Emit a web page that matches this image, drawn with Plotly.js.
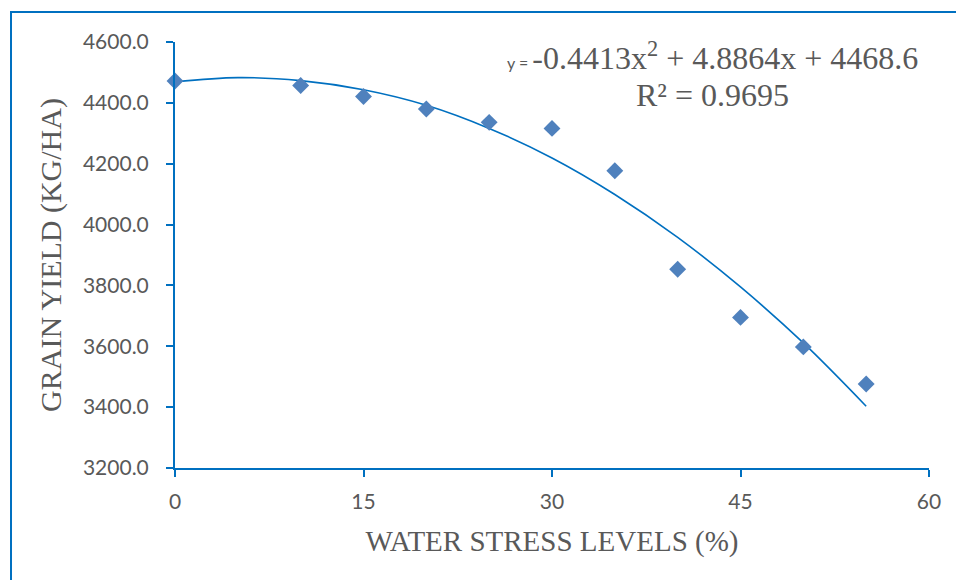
<!DOCTYPE html>
<html>
<head>
<meta charset="utf-8">
<script src="https://cdn.plot.ly/plotly-3.0.1.min.js"></script>
<style>
  html, body { margin: 0; padding: 0; background: #ffffff; }
  #chart { width: 956px; height: 580px; }
</style>
</head>
<body>
<div id="chart"></div>
<script>
// Observed data (water stress level %, grain yield kg/ha)
const stressLevels = [0, 10, 15, 20, 25, 30, 35, 40, 45, 50, 55];
const grainYield = [4472, 4457, 4421, 4380, 4336, 4316, 4177, 3853, 3695, 3598, 3476];

// Polynomial trendline
const trendX = [0, 5, 10, 15, 20, 25, 30, 35, 40, 45, 50, 55];
const trendY = [4469, 4483, 4473, 4443, 4392, 4316, 4219, 4099, 3958, 3795, 3611, 3403];

// Tick labels
const xTicks = [0, 15, 30, 45, 60];
const xTickText = ['0', '15', '30', '45', '60'];
const yTicks = [3200, 3400, 3600, 3800, 4000, 4200, 4400, 4600];
const yTickText = ['3200.0', '3400.0', '3600.0', '3800.0', '4000.0', '4200.0', '4400.0', '4600.0'];

const equationText = '<span style="font-family:Lato;font-size:16px">y = </span>-0.4413x<sup>2</sup> + 4.8864x + 4468.6';
const r2Text = 'R² = 0.9695';

const blue = '#0070C0';
const grey = '#595959';

const traces = [
  {
    x: trendX, y: trendY, type: 'scatter', mode: 'lines',
    line: { color: blue, width: 1.6, shape: 'spline', smoothing: 1 },
    hoverinfo: 'skip', showlegend: false
  },
  {
    x: stressLevels, y: grainYield, type: 'scatter', mode: 'markers',
    marker: { symbol: 'diamond', size: 13, color: '#4F81BD', line: { width: 0 } },
    cliponaxis: false,
    showlegend: false
  }
];

const axisCommon = {
  showline: true, linecolor: blue, linewidth: 2,
  ticks: 'outside', ticklen: 7, tickwidth: 2, tickcolor: blue,
  showgrid: false, zeroline: false,
  tickfont: { family: 'Lato', size: 21, color: grey }
};

const layout = {
  width: 956, height: 580,
  margin: { l: 175, r: 27, t: 42, b: 112 },
  paper_bgcolor: '#ffffff', plot_bgcolor: '#ffffff',
  showlegend: false,
  xaxis: Object.assign({}, axisCommon, {
    range: [0, 60], tickmode: 'array', tickvals: xTicks, ticktext: xTickText,
    ticklabelstandoff: 7,
    title: { text: 'WATER STRESS LEVELS (%)', standoff: 18,
             font: { family: 'Liberation Serif', size: 29, color: grey } }
  }),
  yaxis: Object.assign({}, axisCommon, {
    range: [3200, 4600], tickmode: 'array', tickvals: yTicks, ticktext: yTickText,
    ticklabelstandoff: 13,
    title: { text: 'GRAIN YIELD (KG/HA)', standoff: 12,
             font: { family: 'Liberation Serif', size: 30, color: grey } }
  }),
  annotations: [
    { xref: 'paper', yref: 'paper', x: 0.713, y: 0.966, xanchor: 'center', yanchor: 'middle',
      text: equationText, showarrow: false,
      font: { family: 'Liberation Serif', size: 32, color: grey } },
    { xref: 'paper', yref: 'paper', x: 0.713, y: 0.875, xanchor: 'center', yanchor: 'middle',
      text: r2Text, showarrow: false,
      font: { family: 'Liberation Serif', size: 32, color: grey } }
  ],
  shapes: [
    { type: 'rect', xref: 'paper', yref: 'paper',
      x0: -0.2175, y0: -2, x1: 2, y1: 1.0704,
      line: { color: blue, width: 2 }, fillcolor: 'rgba(0,0,0,0)', layer: 'below' }
  ]
};

Plotly.newPlot('chart', traces, layout, { displayModeBar: false, staticPlot: true });
</script>
</body>
</html>
